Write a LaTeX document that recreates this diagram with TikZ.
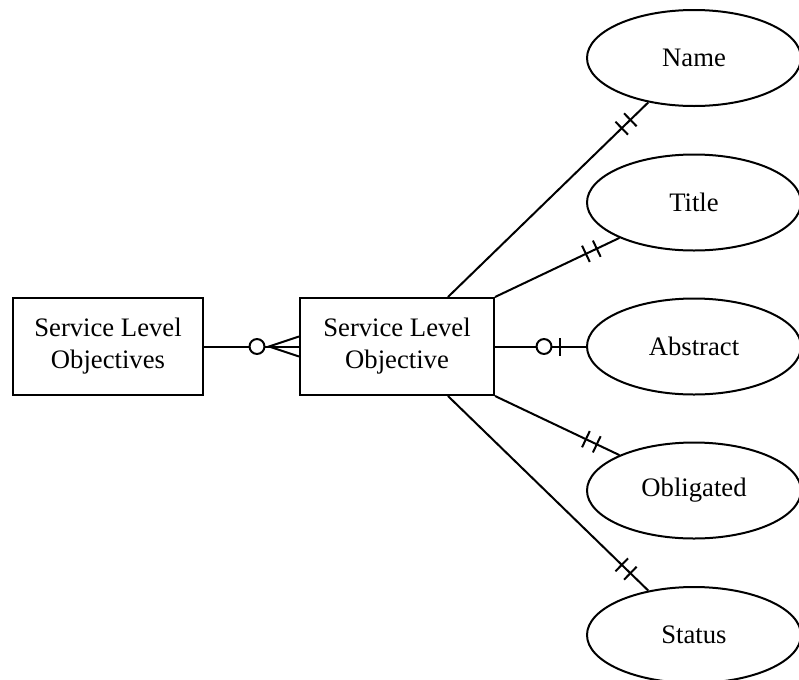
\documentclass[tikz,border=0pt]{standalone}
\usepackage{fontspec}
\setmainfont{Liberation Serif}
\usetikzlibrary{shapes.geometric,calc,decorations.markings}

\tikzset{
  er/.style={line width=1.5pt, draw=black, fill=white, align=center,
    font=\fontsize{20}{24}\selectfont, inner sep=0pt},
  entity/.style={er, rectangle, minimum height=72.75pt},
  attr/.style={er, ellipse, minimum width=160.5pt, minimum height=72pt},
  link/.style={line width=1.5pt},
  % mandatory one: two bars near the attribute end
  onlyone/.style={link, postaction={decorate, decoration={markings,
      mark=at position -18.75pt with {\draw[line width=1.5pt] (0,-6.75pt) -- (0,6.75pt);},
      mark=at position -27.75pt with {\draw[line width=1.5pt] (0,-6.75pt) -- (0,6.75pt);}}}},
  % optional one: bar and open circle
  zeroone/.style={link, postaction={decorate, decoration={markings,
      mark=at position -19.5pt with {\draw[line width=1.5pt] (0,-6.75pt) -- (0,6.75pt);},
      mark=at position -31.5pt with {\draw[line width=1.5pt, fill=white] (0,0) circle[radius=5.6pt];}}}},
  % optional many: crow's foot and open circle
  zeromany/.style={link, postaction={decorate, decoration={markings,
      mark=at position -0.01pt with {\draw[line width=1.5pt] (0,7.5pt) -- (-22.5pt,0) -- (0,-7.5pt);},
      mark=at position -31.5pt with {\draw[line width=1.5pt, fill=white] (0,0) circle[radius=5.6pt];}}}},
}

\begin{document}
\begin{tikzpicture}[x=0.75pt, y=-0.75pt]
  \clip (0,0) rectangle (799,679);
  \fill[white] (0,0) rectangle (799,679);

  % entities
  \node[entity, minimum width=142.5pt] (slos) at (108,346.5) {Service Level\\Objectives};
  \node[entity, minimum width=145.5pt] (slo) at (397,346.5) {Service Level\\Objective};

  % attributes
  \node[attr] (name)      at (694,58)    {Name};
  \node[attr] (title)     at (694,202.5) {Title};
  \node[attr] (abstract)  at (694,346.5) {Abstract};
  \node[attr] (obligated) at (694,490.5) {Obligated};
  \node[attr] (status)    at (694,635)   {Status};

  % attachment points on the objective box
  \coordinate (topR) at ($(slo.north)!0.52!(slo.north east)$);
  \coordinate (botR) at ($(slo.south)!0.52!(slo.south east)$);

  % relationships
  \draw[zeromany] (slos.east) -- (slo.west);
  \draw[onlyone] (topR) -- (name);
  \draw[onlyone] (slo.north east) -- (title);
  \draw[zeroone] (slo.east) -- (abstract);
  \draw[onlyone] (slo.south east) -- (obligated);
  \draw[onlyone] (botR) -- (status);
\end{tikzpicture}
\end{document}
